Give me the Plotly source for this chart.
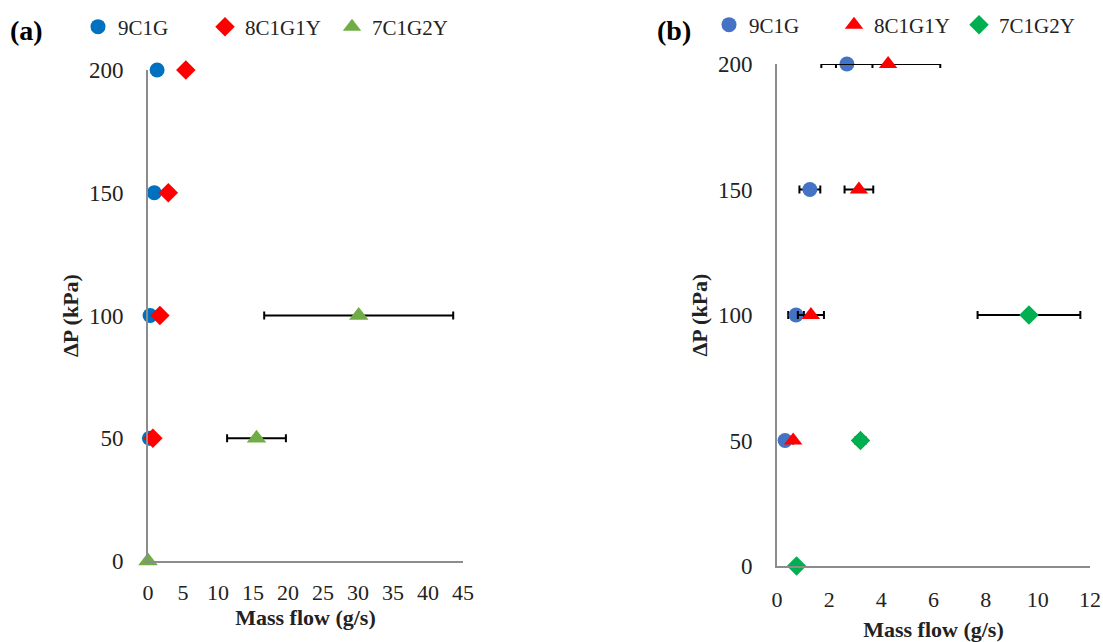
import plotly.graph_objects as go

# ---- data (panel a) ----
dp_a = [0, 50, 100, 150, 200]
a_9c1g_x = [None, 0.2, 0.3, 0.9, 1.3]
a_8c1g1y_x = [None, 0.7, 1.7, 2.9, 5.4]
a_7c1g2y_x = [0.0, 15.5, 30.1, None, None]
a_7c1g2y_err = [0, 4.2, 13.5, 0, 0]

# ---- data (panel b) ----
dp_b = [0, 50, 100, 150, 200]
b_9c1g_x = [None, 0.31, 0.73, 1.26, 2.68]
b_9c1g_err = [0, 0, 0.3, 0.4, 0.98]
b_8c1g1y_x = [None, 0.62, 1.3, 3.14, 4.26]
b_8c1g1y_err = [0, 0, 0.5, 0.55, 2.0]
b_7c1g2y_x = [0.75, 3.2, 9.66, None, None]
b_7c1g2y_err = [0, 0.2, 1.97, 0, 0]

x_ticks_a = [0, 5, 10, 15, 20, 25, 30, 35, 40, 45]
x_ticks_b = [0, 2, 4, 6, 8, 10, 12]
y_ticks = [0, 50, 100, 150, 200]

FONT = "Liberation Serif"
W, H = 1103, 642

fig = go.Figure()

def err(vals):
    return dict(type="data", array=vals, visible=True, color="black", thickness=2, width=4)

# panel a traces
fig.add_trace(go.Scatter(x=a_9c1g_x, y=dp_a, mode="markers", name="9C1G",
                         marker=dict(symbol="circle", size=15, color="#0070C0"),
                         xaxis="x", yaxis="y", legend="legend", cliponaxis=False))
fig.add_trace(go.Scatter(x=a_8c1g1y_x, y=dp_a, mode="markers", name="8C1G1Y",
                         marker=dict(symbol="diamond", size=15, color="#FF0000"),
                         xaxis="x", yaxis="y", legend="legend", cliponaxis=False))
fig.add_trace(go.Scatter(x=a_7c1g2y_x, y=dp_a, mode="markers", name="7C1G2Y",
                         marker=dict(symbol="triangle-up", size=17, color="#70AD47"),
                         error_x=err(a_7c1g2y_err),
                         xaxis="x", yaxis="y", legend="legend", cliponaxis=False))

# panel b traces
fig.add_trace(go.Scatter(x=b_9c1g_x, y=dp_b, mode="markers", name="9C1G",
                         marker=dict(symbol="circle", size=15, color="#4472C4"),
                         error_x=err(b_9c1g_err),
                         xaxis="x2", yaxis="y2", legend="legend2", cliponaxis=False))
fig.add_trace(go.Scatter(x=b_8c1g1y_x, y=dp_b, mode="markers", name="8C1G1Y",
                         marker=dict(symbol="triangle-up", size=16, color="#FF0000"),
                         error_x=err(b_8c1g1y_err),
                         xaxis="x2", yaxis="y2", legend="legend2", cliponaxis=False))
fig.add_trace(go.Scatter(x=b_7c1g2y_x, y=dp_b, mode="markers", name="7C1G2Y",
                         marker=dict(symbol="diamond", size=15, color="#00B050"),
                         error_x=err(b_7c1g2y_err),
                         xaxis="x2", yaxis="y2", legend="legend2", cliponaxis=False))

axis_common = dict(showgrid=False, zeroline=False, showline=True, linecolor="#8c8c8c",
                   linewidth=2, ticks="outside", tickcolor="rgba(0,0,0,0)")

tickx = dict(family=FONT, size=22, color="#222")
ticky = dict(family=FONT, size=23, color="#222")
tfont = dict(family=FONT, size=22, color="#222")

fig.update_layout(
    width=W, height=H,
    margin=dict(l=0, r=0, t=0, b=0, autoexpand=False),
    paper_bgcolor="white", plot_bgcolor="white",
    showlegend=True,
    xaxis=dict(axis_common, tickfont=tickx, ticklen=11,
               title=dict(text="<b>Mass flow (g/s)</b>", font=tfont, standoff=3),
               domain=[148 / W, 463 / W], range=[0, 45], tickvals=x_ticks_a, anchor="y"),
    yaxis=dict(axis_common, tickfont=ticky, ticklen=18,
               title=dict(text="<b>ΔP (kPa)</b>", font=tfont, standoff=4),
               domain=[1 - 561 / H, 1 - 70 / H], range=[0, 200], tickvals=y_ticks, anchor="x"),
    xaxis2=dict(axis_common, tickfont=tickx, ticklen=13,
                title=dict(text="<b>Mass flow (g/s)</b>", font=tfont, standoff=13),
                domain=[777 / W, 1090 / W], range=[0, 12], tickvals=x_ticks_b, anchor="y2"),
    yaxis2=dict(axis_common, tickfont=ticky, ticklen=18,
                title=dict(text="<b>ΔP (kPa)</b>", font=tfont, standoff=4),
                domain=[1 - 566 / H, 1 - 64 / H], range=[0, 200], tickvals=y_ticks, anchor="x2"),
    legend=dict(orientation="h", x=78 / W, y=1 - 27 / H, xanchor="left", yanchor="middle",
                font=dict(family=FONT, size=21, color="#222"), entrywidth=82,
                bgcolor="rgba(0,0,0,0)", itemclick=False),
    legend2=dict(orientation="h", x=709 / W, y=1 - 25 / H, xanchor="left", yanchor="middle",
                 font=dict(family=FONT, size=21, color="#222"), entrywidth=80,
                 bgcolor="rgba(0,0,0,0)", itemclick=False),
    annotations=[
        dict(text="<b>(a)</b>", x=8 / W, y=1 - 31 / H, xref="paper", yref="paper",
             xanchor="left", yanchor="middle", showarrow=False,
             font=dict(family=FONT, size=28, color="black")),
        dict(text="<b>(b)</b>", x=655 / W, y=1 - 31 / H, xref="paper", yref="paper",
             xanchor="left", yanchor="middle", showarrow=False,
             font=dict(family=FONT, size=28, color="black")),
    ],
)

fig.write_html("out.html")
